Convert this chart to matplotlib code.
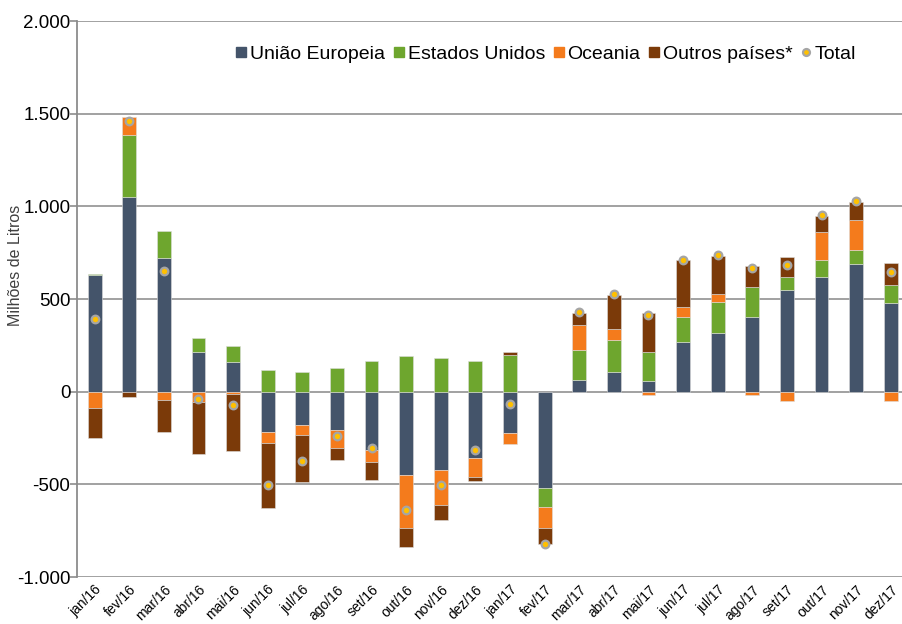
import numpy as np
import matplotlib.pyplot as plt
from matplotlib.lines import Line2D

plt.rcParams['font.family'] = ['Liberation Sans', 'DejaVu Sans']

# Meses
meses = ['jan/16', 'fev/16', 'mar/16', 'abr/16', 'mai/16', 'jun/16', 'jul/16', 'ago/16',
         'set/16', 'out/16', 'nov/16', 'dez/16', 'jan/17', 'fev/17', 'mar/17', 'abr/17',
         'mai/17', 'jun/17', 'jul/17', 'ago/17', 'set/17', 'out/17', 'nov/17', 'dez/17']

# Séries (milhões de litros)
uniao_europeia = [630, 1051, 722, 216, 162, -217, -181, -206, -314, -449, -425, -357,
                  -224, -521, 65, 104, 58, 269, 318, 404, 546, 620, 690, 478]
estados_unidos = [5, 334, 144, 75, 84, 117, 106, 128, 167, 194, 183, 167,
                  198, -99, 158, 176, 156, 132, 167, 162, 74, 93, 75, 97]
oceania = [-86, 97, -47, -55, -11, -59, -54, -99, -65, -285, -189, -104,
           -56, -118, 136, 59, -16, 55, 40, -18, -48, 149, 160, -48]
outros = [-165, -28, -170, -281, -309, -351, -252, -65, -97, -104, -76, -20,
          14, -84, 65, 182, 210, 254, 208, 113, 107, 85, 101, 118]
total = [390, 1459, 649, -40, -70, -503, -375, -239, -302, -639, -501, -312,
         -68, -822, 428, 526, 413, 713, 737, 666, 686, 952, 1027, 647]

series = [
    ('União Europeia', uniao_europeia, '#44546a'),
    ('Estados Unidos', estados_unidos, '#6ea62e'),
    ('Oceania', oceania, '#f47b1c'),
    ('Outros países*', outros, '#7b3a09'),
]

fig = plt.figure(figsize=(9.02, 6.24), dpi=100)
ax = fig.add_axes([0.0857, 0.0753, 0.921, 0.891])

x = np.arange(len(meses))
pos_base = np.zeros(len(meses))
neg_base = np.zeros(len(meses))

# Barras empilhadas (positivos para cima, negativos para baixo)
for nome, vals, cor in series:
    v = np.array(vals, dtype=float)
    base = np.where(v >= 0, pos_base, neg_base)
    ax.bar(x, v, 0.4, bottom=base, color=cor,
           edgecolor='#dddddd', linewidth=0.4, zorder=3)
    pos_base = pos_base + np.where(v >= 0, v, 0)
    neg_base = neg_base + np.where(v < 0, v, 0)

ax.plot(x, total, linestyle='none', marker='o', markersize=5.5,
        markerfacecolor='#ffc000', markeredgecolor='#a5a5a5', markeredgewidth=1.6,
        zorder=4)

ax.set_xlim(-0.5, len(meses) - 0.5)
ax.set_ylim(-1000, 2000)
ax.set_yticks([-1000, -500, 0, 500, 1000, 1500, 2000])
ax.set_yticklabels(['-1.000', '-500', '0', '500', '1.000', '1.500', '2.000'], fontsize=13.5)
ax.set_xticks(x)
ax.set_xticklabels(meses, rotation=45, ha='right', rotation_mode='anchor', fontsize=10)
ax.tick_params(axis='x', length=0, pad=4)
ax.tick_params(axis='y', length=5, color='#8c8c8c', width=1.2, pad=0)

ax.grid(axis='y', color='#9a9a9a', linewidth=1.3, zorder=0)
for s in ['top', 'right', 'bottom']:
    ax.spines[s].set_visible(False)
ax.spines['left'].set_color('#8c8c8c')
ax.spines['left'].set_linewidth(1.3)

ax.set_ylabel('Milhões de Litros', fontsize=11.5, color='#404040')
ax.yaxis.set_label_coords(-0.065, 0.561)

# Legenda
hs = [Line2D([], [], linestyle='none', marker='s', markersize=7,
             markerfacecolor=c, markeredgecolor=c) for _, _, c in series]
hs.append(Line2D([], [], linestyle='none', marker='o', markersize=5,
                 markerfacecolor='#ffc000', markeredgecolor='#a5a5a5', markeredgewidth=1.6))
ax.legend(hs, [s[0] for s in series] + ['Total'], loc='center',
          bbox_to_anchor=(0.564, 0.9406), ncol=5, frameon=False, fontsize=14,
          handlelength=0.6, handletextpad=0.15, columnspacing=0.4)

plt.savefig('out.png')
